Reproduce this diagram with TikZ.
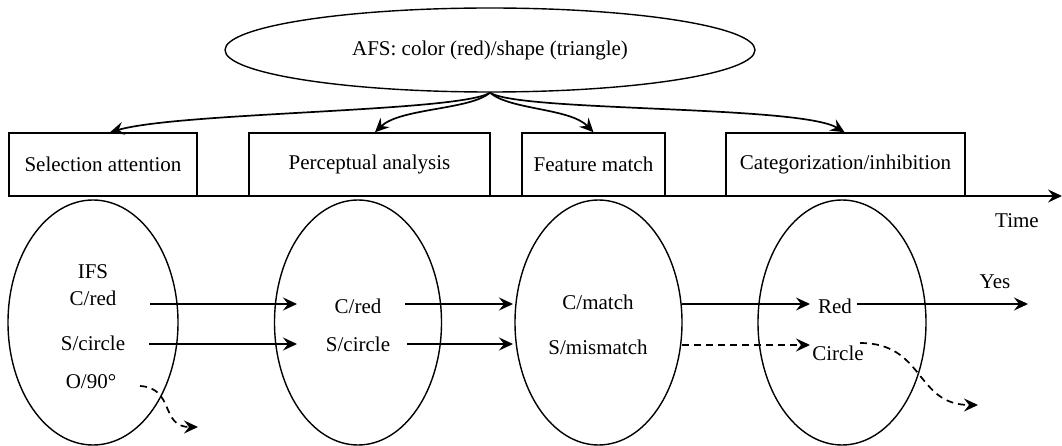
\documentclass[tikz,border=0pt]{standalone}
\usepackage{fontspec}
\setmainfont{Liberation Serif}
\usetikzlibrary{arrows.meta,shapes.geometric}
\begin{document}
\begin{tikzpicture}[x=1pt,y=-1pt,
  every node/.style={font=\fontsize{21}{25}\selectfont},
  stagebox/.style={draw, line width=1.5pt, minimum height=63pt, inner sep=0pt},
  phase/.style={draw, ellipse, line width=1.4pt, minimum height=245pt, inner sep=0pt},
  lbl/.style={inner sep=0pt},
  arr/.style={line width=1.7pt, -{Stealth[length=14pt,width=13pt,inset=5pt]}},
  darr/.style={arr, dash pattern=on 7pt off 5pt},
]
\useasboundingbox (0,0) rectangle (1062,446);

% top ellipse
\node[draw, ellipse, line width=1.4pt, minimum width=530pt, minimum height=84pt, inner sep=0pt] (afs) at (490,50) {AFS: color (red)/shape (triangle)};

% stage boxes
\node[stagebox, minimum width=188pt] (box1) at (103,164.5) {Selection attention};
\node[stagebox, minimum width=241pt] (box2) at (369.5,164.5) {Perceptual analysis};
\node[stagebox, minimum width=143pt] (box3) at (593.5,164.5) {Feature match};
\node[stagebox, minimum width=239pt] (box4) at (845.5,164.5) {Categorization/inhibition};

% curved arrows from AFS
\draw[arr] (afs.south) .. controls (460,112) and (180,112) .. ([xshift=7pt]box1.north);
\draw[arr] (afs.south) .. controls (470,110) and (400,108) .. ([xshift=5.5pt]box2.north);
\draw[arr] (afs.south) .. controls (510,110) and (570,108) .. (box3.north);
\draw[arr] (afs.south) .. controls (520,112) and (800,105) .. ([xshift=-1pt]box4.north);

% time axis
\coordinate (t0) at (9,196);
\coordinate (t1) at (1062,196);
\draw[arr] (t0) -- (t1);
\node[lbl] (time) at (1017,221) {Time};

% phase ellipses
\node[phase, minimum width=170pt] (e1) at (93,322.5) {};
\node[phase, minimum width=167pt] (e2) at (358,322.5) {};
\node[phase, minimum width=167pt] (e3) at (598.5,322.5) {};
\node[phase, minimum width=168pt] (e4) at (842,322.5) {};

% texts
\node[lbl] (ifs) at (93,272) {IFS};
\node[lbl] (cr1) at (93,298) {C/red};
\node[lbl] (sc1) at (93,343) {S/circle};
\node[lbl] (o1) at (91,382) {O/90°};
\node[lbl] (cr2) at (358,306) {C/red};
\node[lbl] (sc2) at (358,344) {S/circle};
\node[lbl] (cm3) at (598,302) {C/match};
\node[lbl] (sm3) at (598,347) {S/mismatch};
\node[lbl] (red) at (835,306) {Red};
\node[lbl] (circ) at (838,353) {Circle};
\node[lbl] (yes) at (995,282) {Yes};

% arrow end points
\coordinate (a1s) at (150,304); \coordinate (a1e) at (297,304);
\coordinate (b1s) at (149,344); \coordinate (b1e) at (297,344);
\coordinate (a2s) at (405,304); \coordinate (a2e) at (513,304);
\coordinate (b2s) at (407,344); \coordinate (b2e) at (513,344);
\coordinate (a3s) at (682,304); \coordinate (a3e) at (810,304);
\coordinate (b3s) at (682,345); \coordinate (b3e) at (810,345);
\coordinate (a4s) at (857,304); \coordinate (a4e) at (1028,304);
\coordinate (c4s) at (860,343); \coordinate (c4e) at (978,405);
\coordinate (o1s) at (140,386); \coordinate (o1e) at (198,427);

\draw[arr] (a1s) -- (a1e);
\draw[arr] (b1s) -- (b1e);
\draw[arr] (a2s) -- (a2e);
\draw[arr] (b2s) -- (b2e);
\draw[arr] (a3s) -- (a3e);
\draw[darr] (b3s) -- (b3e);
\draw[arr] (a4s) -- (a4e);
\draw[darr] (c4s) .. controls (925,343) and (915,405) .. (c4e);
\draw[darr] (o1s) .. controls (175,388) and (160,427) .. (o1e);
\end{tikzpicture}
\end{document}
